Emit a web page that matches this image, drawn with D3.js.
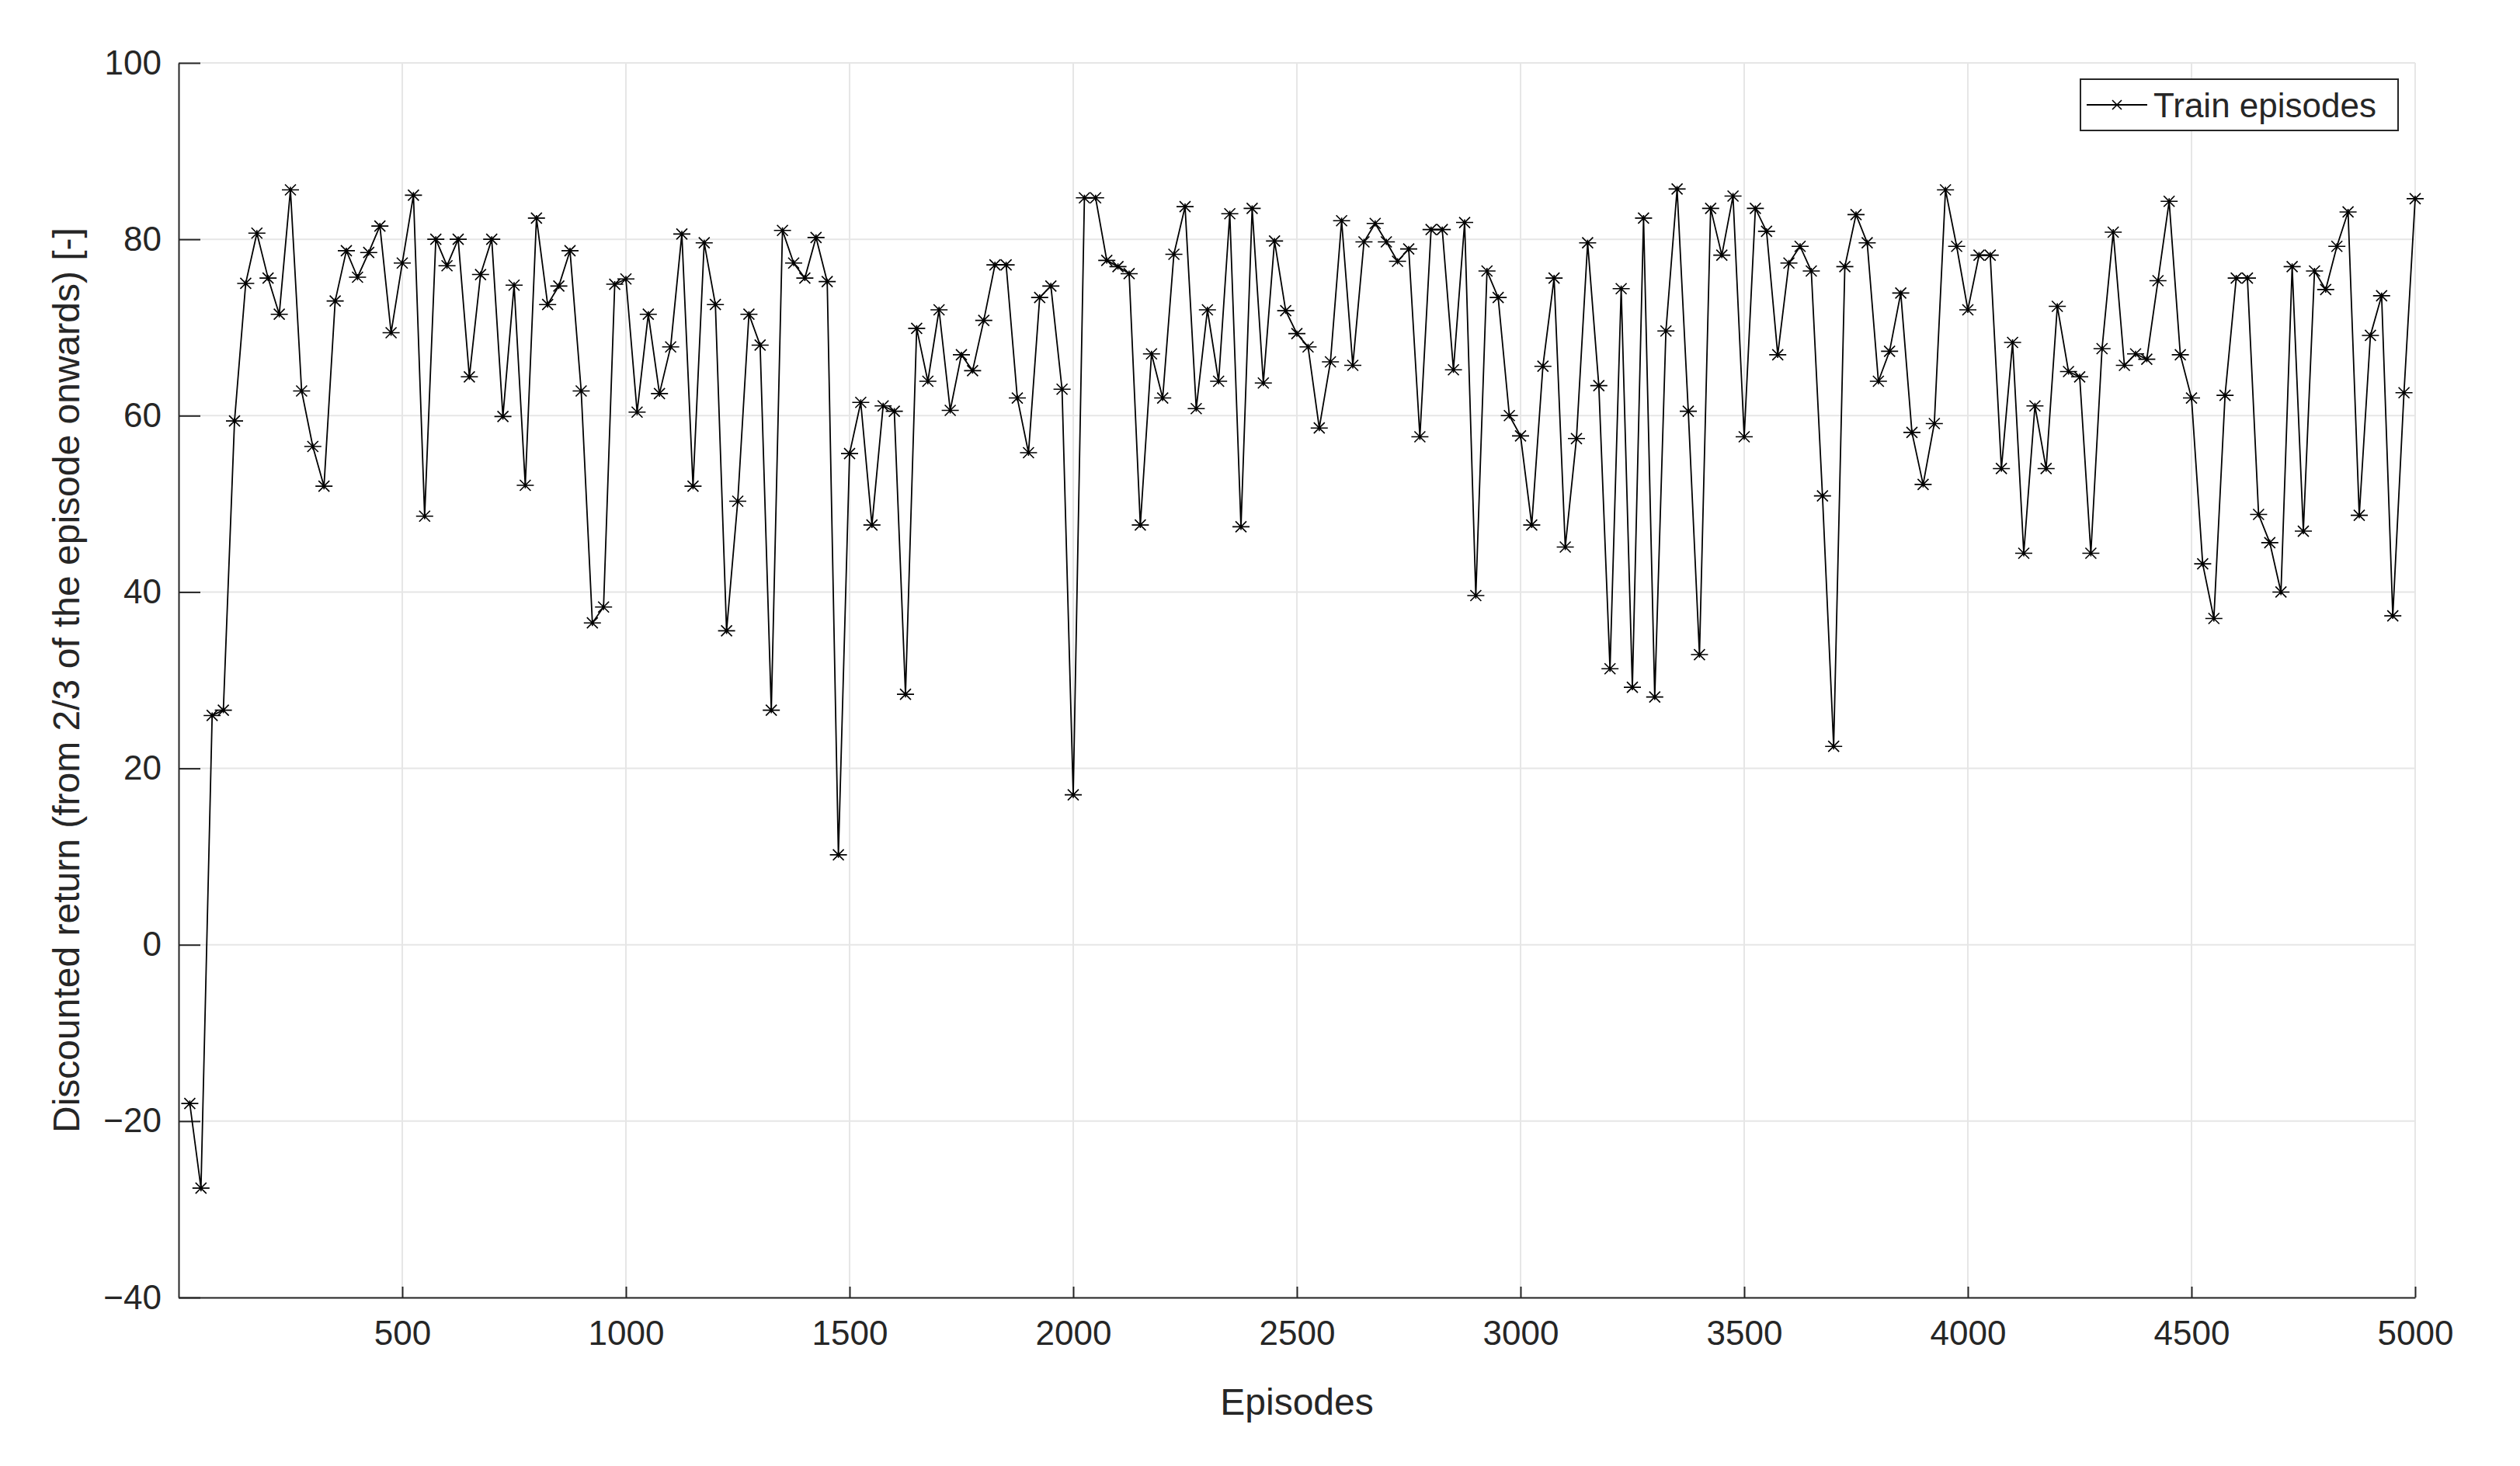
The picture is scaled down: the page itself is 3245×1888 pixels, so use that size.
<!DOCTYPE html>
<html>
<head>
<meta charset="utf-8">
<script src="https://cdn.jsdelivr.net/npm/d3@7"></script>
<style>
  body { margin: 0; background: #fff; }
  svg text { font-family: Arial, "Liberation Sans", sans-serif; fill: #262626; }
</style>
</head>
<body>
<svg id="chart" width="3245" height="1888"></svg>
<script>
// episodes 25, 50, ... 5000
var episodes = d3.range(25, 5001, 25);
var returns = [
  -18, -27.6, 26, 26.6, 59.4, 75, 80.7, 75.6, 71.5, 85.6,
  62.8, 56.5, 52, 73, 78.7, 75.7, 78.5, 81.5, 69.4, 77.3,
  85, 48.6, 80, 77, 80, 64.4, 76, 80, 59.9, 74.8,
  52.1, 82.4, 72.6, 74.7, 78.7, 62.8, 36.5, 38.3, 74.9, 75.5,
  60.4, 71.5, 62.5, 67.8, 80.6, 52, 79.6, 72.6, 35.6, 50.3,
  71.5, 68, 26.6, 81, 77.3, 75.6, 80.2, 75.2, 10.2, 55.7,
  61.5, 47.6, 61.1, 60.5, 28.4, 69.9, 63.9, 72, 60.6, 66.9,
  65.1, 70.8, 77.1, 77.1, 62, 55.8, 73.4, 74.7, 63, 17,
  84.7, 84.7, 77.6, 76.9, 76.1, 47.6, 67, 62, 78.3, 83.7,
  60.8, 72, 63.9, 82.9, 47.4, 83.5, 63.7, 79.8, 71.9, 69.3,
  67.8, 58.6, 66.1, 82.1, 65.7, 79.7, 81.8, 79.7, 77.5, 78.9,
  57.6, 81.1, 81.1, 65.2, 81.9, 39.6, 76.4, 73.4, 60, 57.7,
  47.6, 65.6, 75.6, 45.1, 57.4, 79.6, 63.4, 31.3, 74.4, 29.2,
  82.4, 28.1, 69.6, 85.7, 60.5, 32.9, 83.5, 78.2, 84.9, 57.6,
  83.5, 80.9, 66.9, 77.3, 79.2, 76.4, 50.9, 22.5, 76.9, 82.8,
  79.6, 63.9, 67.3, 73.9, 58.1, 52.2, 59.1, 85.6, 79.2, 72,
  78.2, 78.2, 54, 68.3, 44.4, 61.1, 54, 72.4, 65, 64.4,
  44.4, 67.6, 80.8, 65.7, 67, 66.4, 75.3, 84.3, 66.9, 62,
  43.2, 37, 62.3, 75.6, 75.6, 48.8, 45.6, 40, 76.9, 46.9,
  76.4, 74.3, 79.2, 83.1, 48.7, 69.1, 73.6, 37.3, 62.6, 84.6
];
var xTicks = [500, 1000, 1500, 2000, 2500, 3000, 3500, 4000, 4500, 5000];
var yTicks = [-40, -20, 0, 20, 40, 60, 80, 100];

var svg = d3.select('#chart');
var mLeft = 230, mRight = 3110, mTop = 81, mBottom = 1671;

var x = d3.scaleLinear().domain([0, 5000]).range([mLeft, mRight]);
var y = d3.scaleLinear().domain([-40, 100]).range([mBottom, mTop]);

// grid
svg.append('g').selectAll('line').data(xTicks).enter().append('line')
    .attr('x1', function (d) { return x(d); }).attr('x2', function (d) { return x(d); })
    .attr('y1', mTop).attr('y2', mBottom)
    .style('stroke', '#e6e6e6').style('stroke-width', 2);
svg.append('g').selectAll('line').data(yTicks).enter().append('line')
    .attr('x1', mLeft).attr('x2', mRight)
    .attr('y1', function (d) { return y(d); }).attr('y2', function (d) { return y(d); })
    .style('stroke', '#e6e6e6').style('stroke-width', 2);

// axes, ticks inward
var xAxis = svg.append('g').attr('transform', 'translate(0,' + mBottom + ')')
    .call(d3.axisBottom(x).tickValues(xTicks).tickFormat(d3.format('d'))
        .tickSizeInner(-14).tickSizeOuter(0).tickPadding(30));
var yAxis = svg.append('g').attr('transform', 'translate(' + mLeft + ',0)')
    .call(d3.axisLeft(y).tickValues(yTicks).tickFormat(d3.format('d'))
        .tickSizeInner(-28).tickSizeOuter(0).tickPadding(22));
[xAxis, yAxis].forEach(function (a) {
    a.select('.domain').style('stroke', '#262626').style('stroke-width', 2);
    a.selectAll('.tick line').style('stroke', '#262626').style('stroke-width', 2);
    a.selectAll('.tick text').style('font-size', '44px').style('fill', '#262626')
        .style('font-family', 'Arial, "Liberation Sans", sans-serif');
});

// line
var pts = episodes.map(function (e, i) { return [e, returns[i]]; });
svg.append('path').datum(pts)
    .attr('d', d3.line().x(function (d) { return x(d[0]); }).y(function (d) { return y(d[1]); }))
    .style('fill', 'none').style('stroke', '#000').style('stroke-width', 1.8);

// asterisk markers
var star = 'M-11,0H11M-7,-7L7,7M-7,7L7,-7M0,-4V4';
svg.append('g').selectAll('path').data(pts).enter().append('path')
    .attr('transform', function (d) { return 'translate(' + x(d[0]) + ',' + y(d[1]) + ')'; })
    .attr('d', star)
    .style('fill', 'none').style('stroke', '#000').style('stroke-width', 1.6);

// labels
svg.append('text').attr('x', (mLeft + mRight) / 2).attr('y', 1822)
    .attr('text-anchor', 'middle').style('font-size', '48px').text('Episodes');
svg.append('text').attr('transform', 'translate(102,' + (mTop + mBottom) / 2 + ') rotate(-90)')
    .attr('text-anchor', 'middle').style('font-size', '48px')
    .text('Discounted return (from 2/3 of the episode onwards) [-]');

// legend
var lg = svg.append('g').attr('transform', 'translate(2679,102)');
lg.append('rect').attr('width', 409).attr('height', 66)
    .style('fill', '#fff').style('stroke', '#262626').style('stroke-width', 2);
lg.append('line').attr('x1', 8).attr('x2', 86).attr('y1', 33).attr('y2', 33)
    .style('stroke', '#000').style('stroke-width', 1.8);
lg.append('path').attr('transform', 'translate(47,33)').attr('d', 'M-6,-6L6,6M-6,6L6,-6')
    .style('stroke', '#000').style('stroke-width', 1.6);
lg.append('text').attr('x', 94).attr('y', 49).style('font-size', '44px').text('Train episodes');
</script>
</body>
</html>
